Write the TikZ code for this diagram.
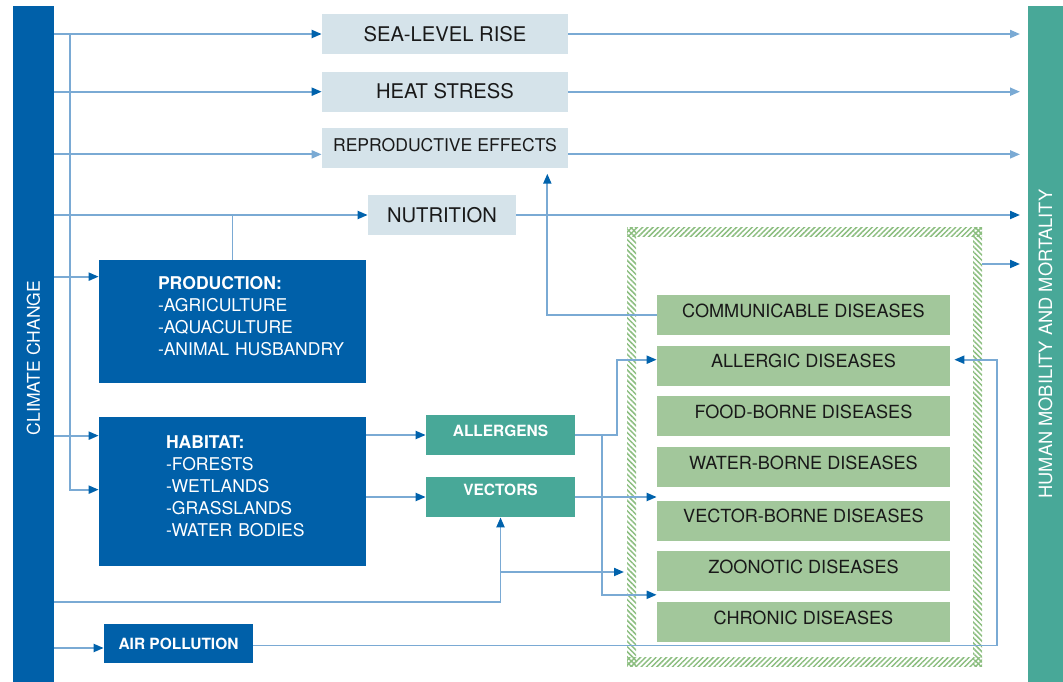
\documentclass[tikz,border=0pt]{standalone}
\usepackage{fontspec}
\setmainfont{TeX Gyre Heros}
\usepackage{xcolor}
\usepackage{tikz}
\usetikzlibrary{positioning, arrows.meta, calc, patterns.meta}

\definecolor{ccblue}{RGB}{0,96,169}
\definecolor{mobteal}{RGB}{72,168,152}
\definecolor{greybox}{RGB}{213,227,234}
\definecolor{disgreen}{RGB}{162,199,155}
\definecolor{linkblue}{RGB}{122,170,212}
\definecolor{tipblue}{RGB}{0,98,172}
\definecolor{hatchgreen}{RGB}{140,190,128}

\tikzstyle{link} = [draw=linkblue, line width=1.1pt]
\tikzstyle{flow} = [link, -{Triangle[length=0.2cm,width=0.16cm,color=tipblue]}]
\tikzstyle{flowlight} = [link, -{Triangle[length=0.2cm,width=0.16cm,color=linkblue]}]

\begin{document}
\begin{tikzpicture}[x=0.02cm, y=-0.02cm,
    effect/.style={rectangle, fill=greybox, text=black!90, inner sep=0pt, minimum width=4.92cm, minimum height=0.8cm, font=\fontsize{11.5}{13}\selectfont, text height=8.3pt, text depth=0pt},
    sector/.style={rectangle, fill=ccblue, text=white, inner sep=0pt, minimum width=5.34cm, text width=4.82cm, align=left, font=\fontsize{10}{12.5}\selectfont},
    agent/.style={rectangle, fill=mobteal, text=white, inner sep=0pt, minimum width=2.98cm, minimum height=0.8cm, font=\bfseries\fontsize{8.8}{10}\selectfont, text height=6.3pt},
    disease/.style={rectangle, fill=disgreen, text=black!90, inner sep=0pt, minimum width=5.86cm, minimum height=0.8cm, font=\fontsize{10.3}{12}\selectfont, text height=7.4pt, text depth=5pt},
    hatch h/.style={pattern={Lines[angle=45,distance=2.1pt,line width=0.85pt]}, pattern color=hatchgreen},
    hatch v/.style={pattern={Lines[angle=-45,distance=2.1pt,line width=0.85pt]}, pattern color=hatchgreen}]
    \useasboundingbox (0,0) rectangle (1063,682);

    % Side bars
    \node[fill=ccblue, text=white, inner sep=0pt, minimum width=0.82cm, minimum height=13.52cm, font=\fontsize{10}{12}\selectfont] (climate) at (33.5,344) {\rotatebox{90}{CLIMATE CHANGE\hspace*{0.56cm}}};
    \node[fill=mobteal, text=white, inner sep=0pt, minimum width=0.7cm, minimum height=13.52cm, font=\fontsize{10.4}{12}\selectfont] (mobility) at (1045.5,344) {\rotatebox{90}{HUMAN MOBILITY AND MORTALITY}};

    % Direct effects
    \node[effect] (sea) at (445,34) {SEA-LEVEL RISE};
    \node[effect, below=0.34cm of sea] (heat) {HEAT STRESS};
    \node[effect, below=0.32cm of heat, font=\fontsize{10}{12}\selectfont, text height=7.2pt, text depth=4pt] (repro) {REPRODUCTIVE EFFECTS};
    \node[effect, minimum width=2.96cm] (nutri) at (442,215) {NUTRITION};

    % Production and habitat
    \node[sector, minimum height=2.46cm] (prod) at (232.5,321.5) {\leftskip=0.92cm\textbf{PRODUCTION:}\\-AGRICULTURE\\-AQUACULTURE\\-ANIMAL HUSBANDRY\par\vspace*{0.2cm}};
    \node[sector, minimum height=2.98cm] (habitat) at (232.5,491.5) {\leftskip=1.08cm\textbf{HABITAT:}\\-FORESTS\\-WETLANDS\\-GRASSLANDS\\-WATER BODIES\par\vspace*{0.2cm}};
    \node[agent, text depth=4.5pt] (allergens) at (500.5,435) {ALLERGENS};
    \node[agent, text depth=8pt] (vectors) at (500.5,497) {VECTORS};
    \node[agent, fill=ccblue, text depth=0pt] (airpol) at (178.5,643.5) {AIR POLLUTION};

    % Hatched frame round the diseases
    \fill[hatch h] (627,228) rectangle (982,237);
    \fill[hatch h] (627,658) rectangle (982,667);
    \fill[hatch v] (627,228) rectangle (636,667);
    \fill[hatch v] (973,228) rectangle (982,667);

    % Diseases
    \node[disease] (communic) at (803.5,315) {COMMUNICABLE DISEASES};
    \node[disease, below=0.2cm of communic] (allergic) {ALLERGIC DISEASES};
    \node[disease, below=0.2cm of allergic] (foodb) {FOOD-BORNE DISEASES};
    \node[disease, below=0.2cm of foodb] (waterb) {WATER-BORNE DISEASES};
    \node[disease, below=0.26cm of waterb] (vectorb) {VECTOR-BORNE DISEASES};
    \node[disease, below=0.2cm of vectorb] (zoonotic) {ZOONOTIC DISEASES};
    \node[disease, below=0.2cm of zoonotic] (chronic) {CHRONIC DISEASES};

    % Helper points
    \coordinate (bus) at (70,0);
    \coordinate (mob) at (1020,0);
    \coordinate (low) at (0,602);
    \coordinate (zin) at (624,572);
    \coordinate (fout) at (982,264);
    \coordinate (rin) at ($(repro.west)+(0,6)$);
    \coordinate (rout) at ($(repro.east)+(0,6)$);
    \coordinate (pin) at ($(prod.north west)+(0,17)$);
    \coordinate (hin1) at ($(habitat.north west)+(0,19)$);
    \coordinate (hin2) at ($(habitat.north west)+(0,73)$);
    \coordinate (ain) at ($(airpol.west)+(0,4.5)$);

    % Arrows from climate change
    \draw[flow] (climate.east |- sea.west) -- (sea.west);
    \draw[flow] (climate.east |- heat.west) -- (heat.west);
    \draw[flowlight] (climate.east |- rin) -- (rin);
    \draw[flow] (climate.east |- nutri.west) -- (nutri.west);
    \draw[link] (prod.north |- nutri.west) -- (prod.north);
    \draw[flow] (climate.east |- pin) -- (pin);
    \draw[flow] (climate.east |- hin1) -- (hin1);
    \draw[flow] (bus |- sea.west) |- (hin2);
    \draw[flow] (climate.east |- low) -| (vectors.south);
    \draw[flow] (vectors.south |- zin) -- (zin);
    \draw[flow] (climate.east |- ain) -- (ain);

    % Arrows to human mobility and mortality
    \draw[flowlight] (sea.east) -- (mob |- sea.east);
    \draw[flowlight] (heat.east) -- (mob |- heat.east);
    \draw[flowlight] (rout) -- (mob |- rout);
    \draw[flow] (nutri.east) -- (mob |- nutri.east);
    \draw[flow] (fout) -- (mob |- fout);

    % Arrows to the diseases
    \draw[flow] (communic.west) -| ($(repro.south east)+(-21,5)$);
    \draw[flow] (habitat.east |- allergens.west) -- (allergens.west);
    \draw[flow] (habitat.east |- vectors.west) -- (vectors.west);
    \draw[flow] (allergens.east) -- ++(42,0) |- ($(allergic.west)+(0,-6)$);
    \draw[flow] ($(allergens.east)+(27,0)$) |- ($(zoonotic.south west)+(0,3)$);
    \draw[flow] (vectors.east) -- (vectors.east -| vectorb.west);
    \draw[flow] ($(airpol.east)+(0,2)$) -- ++(744,0) |- ($(allergic.east)+(4,-6)$);

\end{tikzpicture}
\end{document}
